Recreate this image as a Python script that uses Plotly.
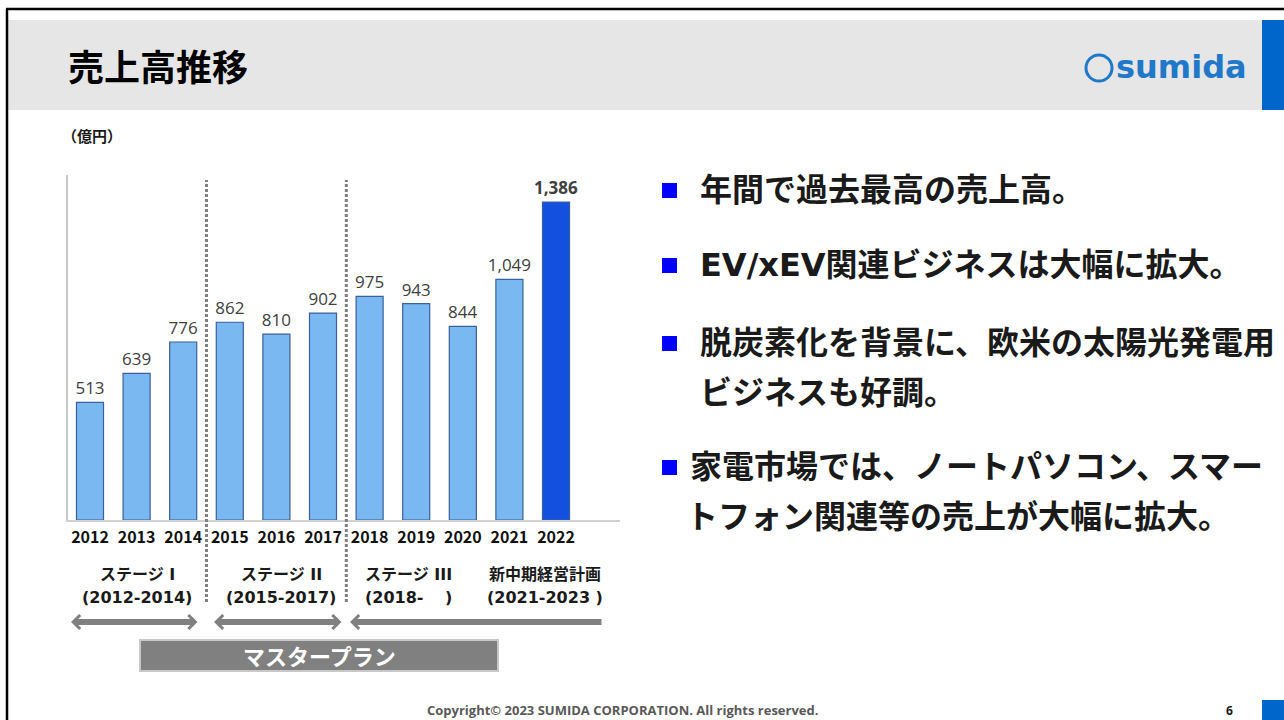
import plotly.graph_objects as go

# ---- data ----
years = ["2012", "2013", "2014", "2015", "2016", "2017",
         "2018", "2019", "2020", "2021", "2022"]
sales = [513, 639, 776, 862, 810, 902, 975, 943, 844, 1049, 1386]  # 億円

stage_names = ["ステージ I", "ステージ II", "ステージ III", "新中期経営計画"]
stage_periods = ["(2012-2014)", "(2015-2017)", "(2018-\u3000 )", "(2021-2023 )"]

bullets = [
    ["年間で過去最高の売上高。"],
    ["EV/xEV関連ビジネスは大幅に拡大。"],
    ["脱炭素化を背景に、欧米の太陽光発電用", "ビジネスも好調。"],
    ["家電市場では、ノートパソコン、スマー", "トフォン関連等の売上が大幅に拡大。"],
]

W, H = 1284, 720
JP = "DejaVu Sans, Noto Sans CJK JP, sans-serif"
JP_ONLY = "Noto Sans CJK JP, sans-serif"


def px(x):
    return x / W


def py(y):
    return 1 - y / H


bar_colors = ["#7ab8f2"] * (len(sales) - 1) + ["#1450e0"]
labels = [f"{v:,}" for v in sales]
labels[-1] = f"<b>{sales[-1]:,}</b>"

fig = go.Figure()
fig.add_trace(go.Bar(
    x=years, y=sales,
    width=0.58,
    marker=dict(color=bar_colors, line=dict(color="#3a5f9a", width=1.2)),
    text=labels, textposition="outside", cliponaxis=False,
    constraintext="none",
    textfont=dict(family="Open Sans, sans-serif", size=17, color="#404040"),
    showlegend=False,
))

shapes = []
annotations = []

# frame, header band, blue tab
shapes += [
    dict(type="rect", xref="paper", yref="paper", x0=px(8), x1=px(1262),
         y0=py(110), y1=py(20), fillcolor="#e6e6e6", line_width=0, layer="below"),
    dict(type="rect", xref="paper", yref="paper", x0=px(1262), x1=1,
         y0=py(110), y1=py(20), fillcolor="#0066cc", line_width=0),
    dict(type="rect", xref="paper", yref="paper", x0=px(1262), x1=1,
         y0=0, y1=py(700), fillcolor="#0066cc", line_width=0),
    dict(type="line", xref="paper", yref="paper", x0=px(6), x1=1,
         y0=py(9), y1=py(9), line=dict(color="black", width=2.5)),
    dict(type="line", xref="paper", yref="paper", x0=px(7), x1=px(7),
         y0=py(9), y1=0, line=dict(color="black", width=2.5)),
]

# logo
shapes.append(dict(type="circle", xref="paper", yref="paper",
                   x0=px(1086), x1=px(1112), y0=py(81), y1=py(55),
                   line=dict(color="#1f78c8", width=3)))
annotations.append(dict(text="<b>sumida</b>", xref="paper", yref="paper",
                        x=px(1114), y=py(67), xanchor="left", yanchor="middle",
                        showarrow=False,
                        font=dict(family="Verdana, DejaVu Sans", size=32, color="#1f78c8")))

# title and unit
annotations.append(dict(text="<b>売上高推移</b>", xref="paper", yref="paper",
                        x=px(66), y=py(65), xanchor="left", yanchor="middle",
                        showarrow=False, font=dict(family=JP_ONLY, size=36, color="black")))
annotations.append(dict(text="<b>（億円）</b>", xref="paper", yref="paper",
                        x=px(60), y=py(135), xanchor="left", yanchor="middle",
                        showarrow=False, font=dict(family=JP_ONLY, size=15, color="#1a1a1a")))

# stage separators (between categories)
for xs in [2.5, 5.5]:
    shapes.append(dict(type="line", xref="x", yref="paper", x0=xs, x1=xs,
                       y0=py(602), y1=py(180),
                       line=dict(color="#808080", width=3, dash="3px,2px")))

# stage labels
stage_x = [137, 281, 408, 545]
for name, period, cx in zip(stage_names, stage_periods, stage_x):
    annotations.append(dict(text=f"<b>{name}</b>", xref="paper", yref="paper",
                            x=px(cx), y=py(574), xanchor="center", yanchor="middle",
                            showarrow=False, font=dict(family=JP, size=16, color="#1a1a1a")))
    annotations.append(dict(text=f"<b>{period}</b>", xref="paper", yref="paper",
                            x=px(cx), y=py(597), xanchor="center", yanchor="middle",
                            showarrow=False, font=dict(family=JP, size=16, color="#1a1a1a")))

# arrows
arrow_common = dict(xref="paper", yref="paper", axref="pixel", ayref="pixel",
                    text="", showarrow=True, arrowcolor="#808080", arrowwidth=6,
                    arrowsize=0.45, arrowhead=4, startarrowhead=4, startarrowsize=0.45,
                    standoff=0, startstandoff=0)
for x0, x1, side in [(71, 199, "end+start"), (214, 343, "end+start"), (350, 603, "end")]:
    annotations.append(dict(x=px(x0), y=py(622), ax=x1 - x0, ay=0,
                            arrowside=side, **arrow_common))

# master plan box
shapes.append(dict(type="rect", xref="paper", yref="paper",
                   x0=px(140), x1=px(498), y0=py(671), y1=py(640),
                   fillcolor="#808080", line=dict(color="#c8c8c8", width=2)))
annotations.append(dict(text="<b>マスタープラン</b>", xref="paper", yref="paper",
                        x=px(319), y=py(655), xanchor="center", yanchor="middle",
                        showarrow=False, font=dict(family=JP_ONLY, size=22, color="white")))

# bullet list
line_y = [[190], [265], [343, 393], [467, 517]]
text_x = [698, 698, 698, 688]
for lines, ys, tx in zip(bullets, line_y, text_x):
    shapes.append(dict(type="rect", xref="paper", yref="paper",
                       x0=px(662), x1=px(677), y0=py(ys[0] + 8), y1=py(ys[0] - 7),
                       fillcolor="#0000ff", line_width=0))
    for k, (t, yy) in enumerate(zip(lines, ys)):
        annotations.append(dict(text=f"<b>{t}</b>", xref="paper", yref="paper",
                                x=px(tx if k == 0 else tx + (0 if tx == 698 else -4)),
                                y=py(yy), xanchor="left", yanchor="middle",
                                showarrow=False,
                                font=dict(family=JP, size=32, color="#1a1a1a")))

# footer
annotations.append(dict(text="<b>Copyright© 2023 SUMIDA CORPORATION. All rights reserved.</b>",
                        xref="paper", yref="paper", x=px(622), y=py(710),
                        xanchor="center", yanchor="middle", showarrow=False,
                        font=dict(family="Open Sans, sans-serif", size=13, color="#595959")))
annotations.append(dict(text="<b>6</b>", xref="paper", yref="paper", x=px(1229), y=py(710),
                        xanchor="center", yanchor="middle", showarrow=False,
                        font=dict(family="Open Sans, sans-serif", size=12, color="#1a1a1a")))

fig.update_layout(
    width=W, height=H,
    margin=dict(l=0, r=0, t=0, b=0),
    paper_bgcolor="white", plot_bgcolor="white",
    xaxis=dict(domain=[px(68), px(620)], type="category",
               range=[-0.472, 11.373], showgrid=False, zeroline=False,
               showline=True, linecolor="#d0d0d0", linewidth=1.5,
               ticks="", tickfont=dict(family=JP_ONLY, size=16, color="#111111"),
               ticklabelstandoff=2, tickprefix="<b>", ticksuffix="</b>"),
    yaxis=dict(domain=[py(520), py(175)], range=[0, 1504],
               showgrid=False, zeroline=False, showticklabels=False,
               showline=True, linecolor="#c8c8c8", linewidth=1.5, ticks=""),
    shapes=shapes, annotations=annotations,
)

fig.write_html("out.html", config={"displayModeBar": False},
               post_script="document.body.style.margin='0px';"
                           "document.body.style.overflow='hidden';")
